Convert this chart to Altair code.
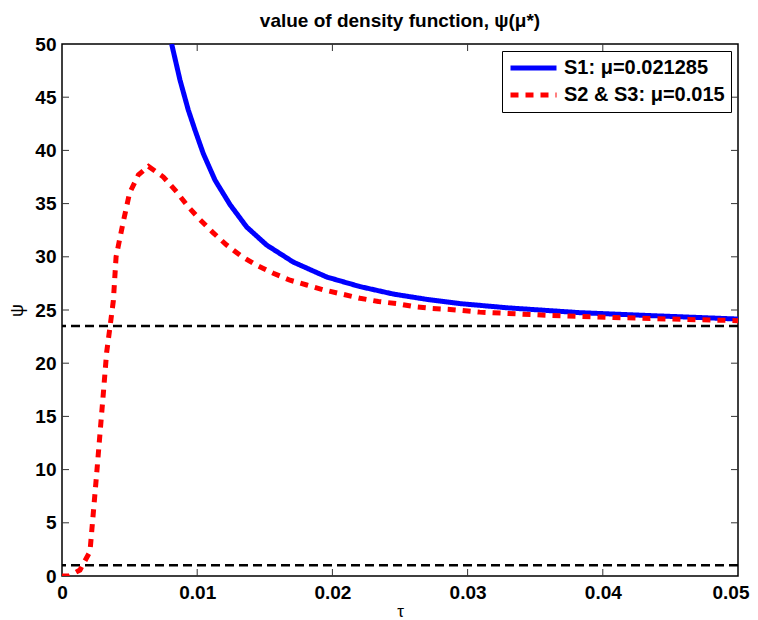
import altair as alt
import pandas as pd

# S1 (blue, solid)
s1_tau = [0.00811, 0.00873, 0.00934, 0.00984, 0.01045, 0.01132, 0.01243, 0.01366,
          0.01514, 0.01711, 0.01958, 0.02204, 0.0245, 0.02697, 0.02944, 0.0330,
          0.0383, 0.0440, 0.0500]
s1_psi = [50.0, 46.6, 43.8, 41.9, 39.7, 37.2, 34.9, 32.8,
          31.1, 29.5, 28.1, 27.2, 26.5, 26.0, 25.6, 25.2,
          24.75, 24.45, 24.15]

# S2 & S3 (red, dotted)
s2_tau = [0.0, 0.0005, 0.00133, 0.00207, 0.00257, 0.00281, 0.00306, 0.0033, 0.00355,
          0.0038, 0.0040, 0.0045, 0.0050, 0.00565, 0.0064, 0.0075, 0.00848, 0.00934,
          0.0102, 0.01115, 0.01218, 0.01322, 0.0144, 0.01563, 0.01686, 0.0181, 0.01933,
          0.02069, 0.02204, 0.0234, 0.02476, 0.02611, 0.02734, 0.0287, 0.0309, 0.0359,
          0.0408, 0.0450, 0.0500]
s2_psi = [0.0, 0.0, 0.56, 2.3, 9.7, 13.4, 17.2, 21.0, 23.4,
          25.9, 30.0, 33.1, 36.0, 37.7, 38.5, 37.5, 36.1, 34.7,
          33.5, 32.3, 31.1, 30.1, 29.2, 28.45, 27.8, 27.35, 26.9,
          26.5, 26.1, 25.8, 25.6, 25.3, 25.15, 25.05, 24.8, 24.5,
          24.3, 24.15, 24.0]

series_names = ["S1: \u03bc=0.021285", "S2 & S3: \u03bc=0.015"]
hlines = [23.5, 1.0]
x_ticks = [0, 0.01, 0.02, 0.03, 0.04, 0.05]
y_ticks = [0, 5, 10, 15, 20, 25, 30, 35, 40, 45, 50]

W, H = 676, 532

rows = []
for t, p in zip(s1_tau, s1_psi):
    rows.append({"tau": t, "psi": p, "series": series_names[0]})
for t, p in zip(s2_tau, s2_psi):
    rows.append({"tau": t, "psi": p, "series": series_names[1]})
df = pd.DataFrame(rows)

xs = alt.Scale(domain=[0, 0.05], nice=False, zero=False)
ys = alt.Scale(domain=[0, 50], nice=False)

base_font = "Liberation Sans"

lines = alt.Chart(df).mark_line(strokeWidth=5, clip=True).encode(
    x=alt.X("tau:Q", scale=xs,
            axis=alt.Axis(values=x_ticks, title="\u03c4", format="~g", labelFontSize=19,
                          labelFontWeight="bold", labelColor="black", ticks=False,
                          domain=False, grid=False, labelPadding=7, titleFontSize=17,
                          titleFontWeight="normal", titleColor="black", titlePadding=1,
                          labelFlush=False,
                          labelAlign=alt.expr("datum.value >= 0.05 ? 'right' : 'center'"),
                          labelOffset=alt.expr("datum.value >= 0.05 ? 11 : 0"))),
    y=alt.Y("psi:Q", scale=ys,
            axis=alt.Axis(values=y_ticks, title="\u03c8", labelFontSize=19,
                          labelFontWeight="bold", labelColor="black", ticks=False,
                          domain=False, grid=False, labelPadding=6, titleFontSize=18,
                          titleFontWeight="normal", titleColor="black", titlePadding=8,
                          labelFlush=False)),
    color=alt.Color("series:N", scale=alt.Scale(domain=series_names, range=["#0000ff", "#ff0000"]),
                    legend=alt.Legend(title=None, orient="top-right", offset=7,
                                      labelFontSize=20, labelFontWeight="bold",
                                      labelColor="black", symbolType="stroke",
                                      symbolSize=2116, symbolStrokeWidth=5,
                                      strokeColor="black", fillColor="white",
                                      padding=6, rowPadding=5, labelOffset=5,
                                      clipHeight=22, cornerRadius=0, labelLimit=400)),
    strokeDash=alt.StrokeDash("series:N",
                              scale=alt.Scale(domain=series_names, range=[[1, 0], [8, 7]]),
                              legend=None),
    order=alt.Order("tau:Q"),
)

hdf = pd.DataFrame({"y": hlines})
hrules = alt.Chart(hdf).mark_rule(color="black", strokeWidth=2.5, strokeDash=[9, 5]).encode(
    y=alt.Y("y:Q", scale=ys)
)

xt = pd.DataFrame({"t": x_ticks[1:-1]})
yt = pd.DataFrame({"t": y_ticks[1:-1]})
tick_style = dict(color="#333333", strokeWidth=1)
xb = alt.Chart(xt).mark_rule(**tick_style).encode(
    x=alt.X("t:Q", scale=xs), y=alt.value(H), y2=alt.value(H - 7))
xtp = alt.Chart(xt).mark_rule(**tick_style).encode(
    x=alt.X("t:Q", scale=xs), y=alt.value(0), y2=alt.value(7))
yl = alt.Chart(yt).mark_rule(**tick_style).encode(
    y=alt.Y("t:Q", scale=ys), x=alt.value(0), x2=alt.value(7))
yr = alt.Chart(yt).mark_rule(**tick_style).encode(
    y=alt.Y("t:Q", scale=ys), x=alt.value(W - 7), x2=alt.value(W))

chart = alt.layer(xb, xtp, yl, yr, hrules, lines).properties(
    width=W, height=H,
    title=alt.Title("value of density function, \u03c8(\u03bc*)", fontSize=19,
                    fontWeight="bold", color="black", offset=4, font=base_font),
    autosize=alt.AutoSizeParams(type="none"),
    padding={"left": 54, "top": 36, "right": 12, "bottom": 44},
).configure(font=base_font).configure_view(
    stroke="black", strokeWidth=1.5
).configure_axis(labelFont=base_font, titleFont=base_font).configure_legend(
    labelFont=base_font
)

chart.save("out.html", embed_options={"renderer": "svg", "actions": False})
